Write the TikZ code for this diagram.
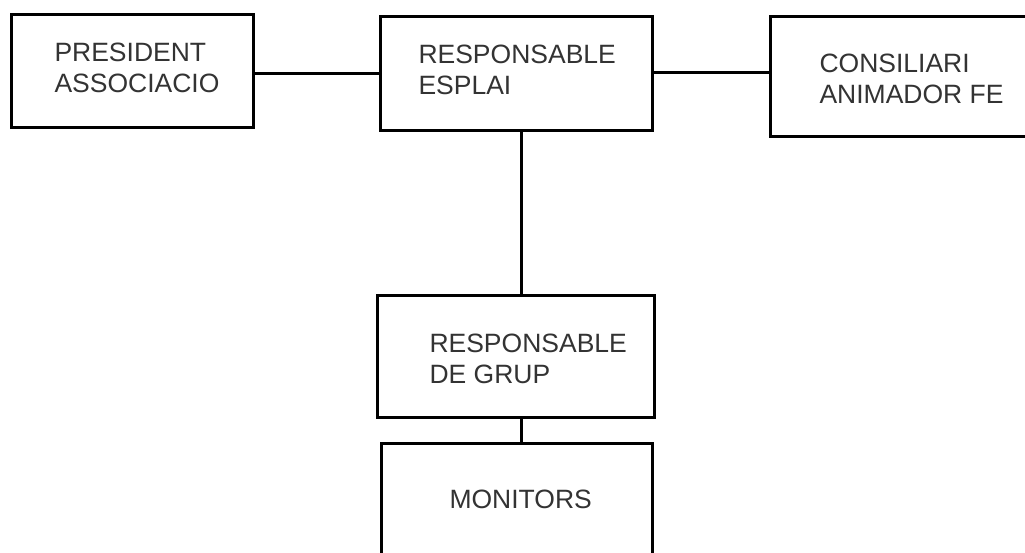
\documentclass[tikz,border=0pt]{standalone}
\usepackage{fontspec}
\setmainfont{Liberation Sans}

\begin{document}
\begin{tikzpicture}[x=1pt, y=-1pt, line width=3pt,
	box/.style={draw, rectangle, inner sep=0pt, anchor=north west},
	lbl/.style={anchor=west, align=left, inner sep=0pt, text=black!80, font=\fontsize{26.5}{31}\selectfont}]
	\path [use as bounding box, clip] (0, 0) rectangle (1025, 552);
	% the boxes
	\node [box, minimum width=242pt, minimum height=113pt] (president) at (10, 13) {};
	\node [box, minimum width=272pt, minimum height=114pt] (esplai) at (379, 15) {};
	\node [box, minimum width=282pt, minimum height=120pt] (consiliari) at (769, 15) {};
	\node [box, minimum width=277pt, minimum height=122pt] (grup) at (376, 294) {};
	\node [box, minimum width=271pt, minimum height=140pt] (monitors) at (380, 442) {};
	% the texts
	\node [lbl] (presidenttxt) at (53, 67.5) {PRESIDENT\\ASSOCIACIO};
	\node [lbl] (esplaitxt) at (417, 70) {RESPONSABLE\\ESPLAI};
	\node [lbl] (consiliaritxt) at (818, 78.5) {CONSILIARI\\ANIMADOR FE};
	\node [lbl] (gruptxt) at (428, 359) {RESPONSABLE\\DE GRUP};
	\node [lbl] (monitorstxt) at (448, 499.5) {MONITORS};
	% the lines
	\draw (esplai.west) -- (esplai.west -| president.east);
	\draw ([yshift=1pt]esplai.east) -- ([yshift=1pt]esplai.east -| consiliari.west);
	\draw ([xshift=5pt]esplai.south) -- ([xshift=5pt]esplai.south |- grup.north);
	\draw ([xshift=5pt]esplai.south |- grup.south) -- ([xshift=5pt]esplai.south |- monitors.north);
\end{tikzpicture}
\end{document}
